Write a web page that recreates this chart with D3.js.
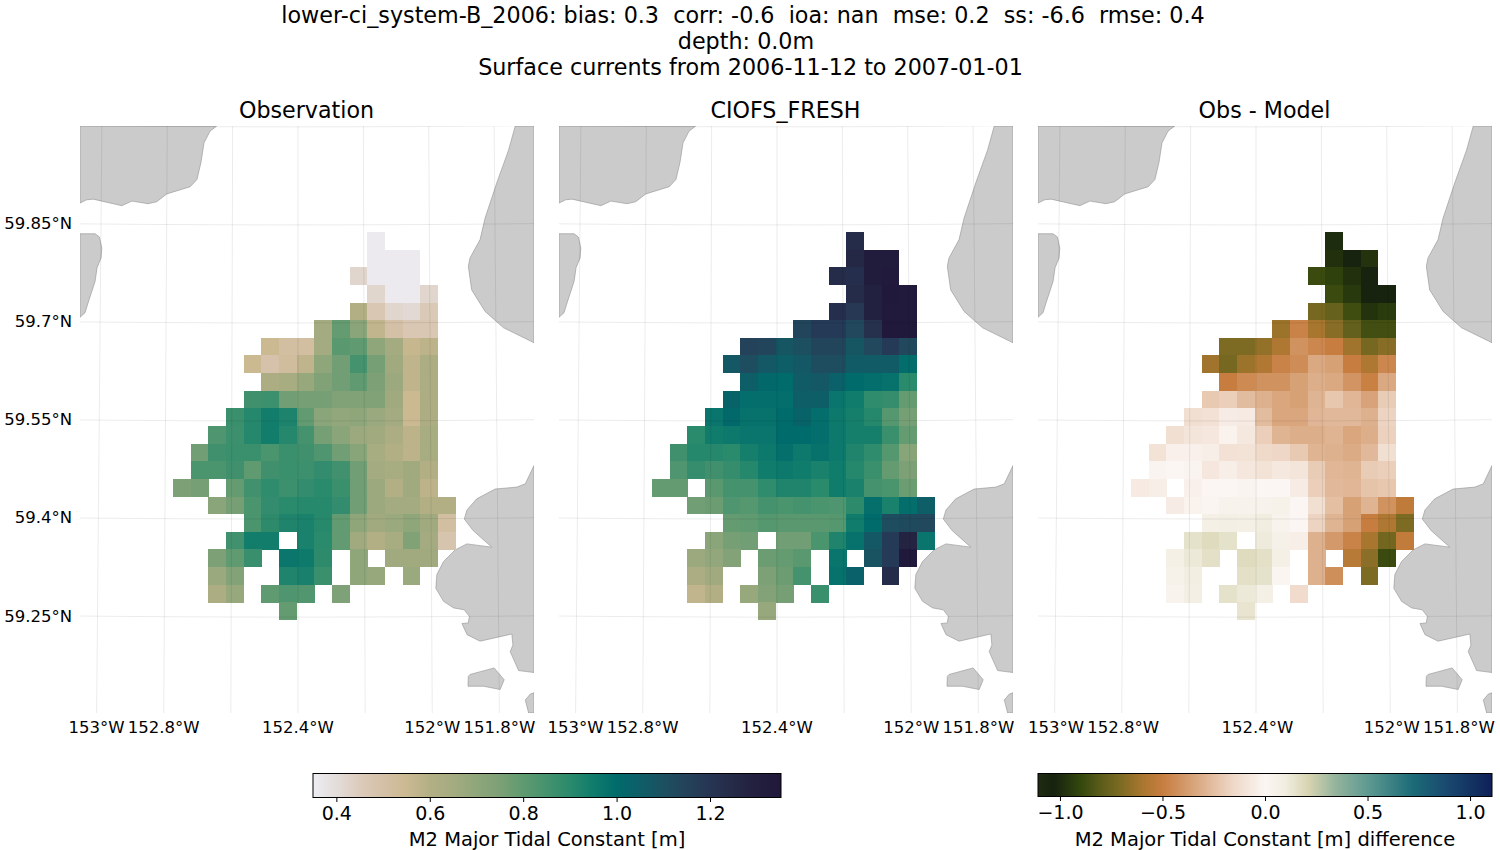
<!DOCTYPE html>
<html>
<head>
<meta charset="utf-8">
<script src="https://cdn.jsdelivr.net/npm/d3@7"></script>
<style>
  html, body { margin: 0; padding: 0; background: #fff; }
  svg { display: block; }
  text { font-family: "DejaVu Sans", sans-serif; fill: #000; white-space: pre; }
</style>
</head>
<body>
<svg id="chart" width="1500" height="850"></svg>
<script>
const _ = null;

// values, one row per latitude bin (north to south), 16 longitude bins
const observation = [
  [_,_,_,_,_,_,_,_,_,_,_,.36,_,_,_,_],
  [_,_,_,_,_,_,_,_,_,_,_,.36,.36,.36,_,_],
  [_,_,_,_,_,_,_,_,_,_,.42,.36,.36,.36,_,_],
  [_,_,_,_,_,_,_,_,_,_,_,.42,.36,.36,.42,_],
  [_,_,_,_,_,_,_,_,_,_,.6,.47,.42,.41,.46,_],
  [_,_,_,_,_,_,_,_,.65,.79,.71,.57,.5,.47,.47,_],
  [_,_,_,_,_,.55,.51,.51,.65,.81,.8,.7,.65,.56,.58,_],
  [_,_,_,_,.55,.49,.52,.575,.7,.77,.85,.76,.66,.575,.62,_],
  [_,_,_,_,_,.62,.64,.68,.74,.77,.8,.75,.67,.575,.62,_],
  [_,_,_,_,.86,.865,.77,.76,.76,.74,.74,.74,.66,.55,.62,_],
  [_,_,_,.87,.91,.945,.925,.795,.71,.69,.7,.675,.65,.55,.62,_],
  [_,_,.83,.865,.91,.945,.91,.85,.76,.71,.67,.66,.62,.58,.64,_],
  [_,.77,.86,.87,.87,.84,.87,.86,.83,.77,.72,.64,.6,.58,.64,_],
  [_,.84,.84,.86,.8,.86,.87,.865,.885,.855,.77,.65,.64,.66,.6,_],
  [.75,.76,_,.79,.855,.89,.865,.885,.9,.87,.77,.67,.605,.66,.58,_],
  [_,_,.71,.76,.84,.885,.9,.905,.905,.885,.77,.67,.65,.65,.605,.605],
  [_,_,_,_,.84,.895,.92,.93,.905,.795,.7,.66,.675,.7,.66,.51],
  [_,_,_,.855,.945,.945,_,.93,.9,.795,.66,.605,.64,.74,.65,.48],
  [_,_,.75,.8,.875,_,.965,.955,.895,_,.7,_,.66,.66,.66,_],
  [_,_,.675,.73,_,_,.92,.935,.87,_,.7,.68,_,.675,_,_],
  [_,_,.62,.68,_,.8,.83,.825,_,.745,_,_,_,_,_,_],
  [_,_,_,_,_,_,.79,_,_,_,_,_,_,_,_,_]
];

const model = [
  [_,_,_,_,_,_,_,_,_,_,_,1.24,_,_,_,_],
  [_,_,_,_,_,_,_,_,_,_,_,1.26,1.32,1.32,_,_],
  [_,_,_,_,_,_,_,_,_,_,1.24,1.23,1.32,1.33,_,_],
  [_,_,_,_,_,_,_,_,_,_,_,1.24,1.29,1.34,1.33,_],
  [_,_,_,_,_,_,_,_,_,_,1.23,1.19,1.29,1.33,1.33,_],
  [_,_,_,_,_,_,_,_,1.14,1.18,1.18,1.13,1.22,1.34,1.34,_],
  [_,_,_,_,_,1.15,1.14,1.08,1.1,1.14,1.14,1.08,1.13,1.18,1.13,_],
  [_,_,_,_,1.07,1.11,1.07,1.05,1.07,1.11,1.11,1.06,1.06,1.06,.995,_],
  [_,_,_,_,_,1.05,1.01,1,1.06,1.07,1.04,1,.99,.98,.9,_],
  [_,_,_,_,1.03,.99,.99,.99,1.05,1.05,.97,.95,.89,.88,.79,_],
  [_,_,_,.97,1.01,.98,.98,1,1.03,.99,.96,.94,.91,.82,.76,_],
  [_,_,.9,.95,.96,.97,.97,1,1,.99,.96,.94,.94,.87,.79,_],
  [_,.86,.91,.91,.9,.94,.96,.985,.96,.98,.96,.92,.89,.82,.72,_],
  [_,.83,.88,.86,.88,.91,.95,.96,.95,.93,.95,.91,.87,.79,.75,_],
  [.79,.79,_,.81,.85,.85,.89,.92,.92,.9,.95,.93,.85,.84,.78,_],
  [_,_,.77,.78,.83,.82,.85,.84,.85,.84,.83,.895,.985,.93,.99,1.05],
  [_,_,_,_,.79,.8,.82,.81,.81,.81,.82,.95,1,1.11,1.12,1.13],
  [_,_,_,.71,.76,.77,_,.77,.77,.84,.92,.98,1.07,1.18,1.28,.97],
  [_,_,.67,.69,.73,_,.78,.79,.81,_,.97,_,1.09,1.18,1.34,_],
  [_,_,.62,.66,_,_,.75,.78,.85,_,.98,1.04,_,1.24,_,_],
  [_,_,.57,.6,_,.68,.73,.76,_,.87,_,_,_,_,_,_],
  [_,_,_,_,_,_,.68,_,_,_,_,_,_,_,_,_]
];

const difference = [
  [_,_,_,_,_,_,_,_,_,_,_,-1,_,_,_,_],
  [_,_,_,_,_,_,_,_,_,_,_,-.98,-1.03,-.97,_,_],
  [_,_,_,_,_,_,_,_,_,_,-.88,-.92,-.98,-1.03,_,_],
  [_,_,_,_,_,_,_,_,_,_,_,-.88,-.95,-1.03,-1.03,_],
  [_,_,_,_,_,_,_,_,_,_,-.72,-.77,-.87,-.97,-.94,_],
  [_,_,_,_,_,_,_,_,-.63,-.48,-.6,-.68,-.78,-.86,-.86,_],
  [_,_,_,_,_,-.7,-.7,-.65,-.58,-.42,-.46,-.5,-.62,-.72,-.68,_],
  [_,_,_,_,-.62,-.72,-.63,-.57,-.48,-.44,-.33,-.36,-.5,-.58,-.46,_],
  [_,_,_,_,_,-.5,-.45,-.42,-.42,-.36,-.31,-.33,-.41,-.49,-.33,_],
  [_,_,_,_,-.21,-.19,-.26,-.3,-.34,-.36,-.29,-.22,-.28,-.35,-.2,_],
  [_,_,_,-.12,-.11,-.05,-.06,-.26,-.34,-.34,-.28,-.27,-.27,-.3,-.17,_],
  [_,_,-.12,-.09,-.08,-.02,-.07,-.19,-.29,-.31,-.31,-.29,-.34,-.31,-.18,_],
  [_,-.1,-.03,-.03,-.04,-.11,-.1,-.15,-.16,-.21,-.29,-.3,-.32,-.27,-.12,_],
  [_,-.01,0,-.01,-.08,-.04,-.08,-.1,-.07,-.09,-.2,-.28,-.29,-.2,-.19,_],
  [-.06,-.04,_,-.03,0,0,-.01,0,0,-.05,-.19,-.27,-.28,-.23,-.22,_],
  [_,_,-.05,-.02,.01,.04,.04,.04,.05,0,-.12,-.25,-.36,-.29,-.42,-.53],
  [_,_,_,_,.07,.08,.07,.1,.03,0,-.17,-.29,-.36,-.5,-.58,-.7],
  [_,_,_,.15,.18,.15,_,.11,.06,-.04,-.3,-.39,-.48,-.6,-.73,-.52],
  [_,_,.07,.12,.16,_,.18,.16,.07,_,-.3,_,-.55,-.67,-.88,_],
  [_,_,.05,.09,_,_,.16,.15,.01,_,-.3,-.43,_,-.7,_,_],
  [_,_,.03,.08,_,.15,.12,.07,_,-.14,_,_,_,_,_,_],
  [_,_,_,_,_,_,.14,_,_,_,_,_,_,_,_,_]
];

// coastline, [lon, lat]
const coast = [
  [[-153.051,60],[-152.643,60],[-152.663,59.992],[-152.681,59.974],[-152.69,59.944],[-152.702,59.918],[-152.722,59.907],[-152.792,59.896],[-152.822,59.884],[-152.848,59.881],[-152.896,59.885],[-152.926,59.878],[-153.012,59.888],[-153.031,59.887],[-153.051,59.882]],
  [[-153.051,59.835],[-153.006,59.835],[-152.993,59.83],[-152.986,59.813],[-152.988,59.798],[-153,59.783],[-153.006,59.762],[-153.027,59.729],[-153.036,59.714],[-153.051,59.707]],
  [[-151.752,60],[-151.772,59.963],[-151.807,59.913],[-151.842,59.859],[-151.857,59.826],[-151.887,59.798],[-151.892,59.785],[-151.882,59.749],[-151.842,59.716],[-151.787,59.691],[-151.696,59.668],[-151.696,60]],
  [[-151.696,59.48],[-151.722,59.452],[-151.747,59.447],[-151.812,59.444],[-151.867,59.429],[-151.896,59.412],[-151.904,59.398],[-151.877,59.38],[-151.822,59.355],[-151.896,59.36],[-151.931,59.351],[-151.966,59.333],[-151.986,59.313],[-151.989,59.292],[-151.966,59.272],[-151.936,59.262],[-151.904,59.259],[-151.889,59.249],[-151.892,59.239],[-151.911,59.238],[-151.896,59.221],[-151.857,59.211],[-151.762,59.222],[-151.759,59.205],[-151.767,59.195],[-151.742,59.166],[-151.696,59.163]],
  [[-151.892,59.157],[-151.887,59.16],[-151.815,59.17],[-151.785,59.152],[-151.797,59.137],[-151.847,59.142],[-151.893,59.142]],
  [[-151.696,59.132],[-151.707,59.13],[-151.722,59.121],[-151.712,59.101],[-151.696,59.101]]
];

const lonLines = [-153, -152.8, -152.6, -152.4, -152.2, -152, -151.8];
const latLines = [59.1, 59.25, 59.4, 59.55, 59.7, 59.85, 60];
const lonTicks = [-153, -152.8, -152.4, -152, -151.8];
const latTicks = [59.85, 59.7, 59.55, 59.4, 59.25];

const titleLines = [
  "lower-ci_system-B_2006: bias: 0.3  corr: -0.6  ioa: nan  mse: 0.2  ss: -6.6  rmse: 0.4",
  "depth: 0.0m",
  "Surface currents from 2006-11-12 to 2007-01-01"
];

const rainValues = [.35,.4,.45,.5,.55,.6,.65,.7,.75,.8,.85,.9,.95,1,1.05,1.1,1.15,1.2,1.25,1.3,1.352];
const rainColors = ["#eeedf3","#e3ddda","#dccbbb","#d4c0a6","#cbb992","#b3af85","#a5ab80","#8fa67b","#7da076","#5f9a70","#45926e","#2a8a6c","#107c6c","#006b6b","#0e5e68","#1c5060","#24425a","#263553","#252a47","#231f3e","#21173a"];
const diffValues = [-1.107,-1.03,-.9,-.8,-.71,-.6,-.5,-.34,-.16,0,.1,.216,.346,.5,.72,.88,1.107];
const diffColors = ["#1f2b12","#17220f","#33470d","#5c5c1a","#7a6a22","#a8762f","#c77d3f","#d9a67e","#eed7c6","#fbf6f3","#f1ede0","#d6d3b0","#93b39c","#5f9a92","#1c6b77","#1a4a70","#0e2058"];

const rain = d3.scaleLinear().domain(rainValues).range(rainColors).clamp(true);
const diff = d3.scaleLinear().domain(diffValues).range(diffColors).clamp(true);

const panelW = 454, panelH = 587, panelY = 126;
const panels = [
  { title: "Observation", x: 80, rows: observation, color: rain },
  { title: "CIOFS_FRESH", x: 559, rows: model, color: rain },
  { title: "Obs - Model", x: 1038, rows: difference, color: diff }
];

const svg = d3.select("#chart");

svg.selectAll(".suptitle")
  .data(titleLines)
  .enter()
  .append("text")
  .attr("class", "suptitle")
  .attr("x", (d, i) => [743, 746, 750.5][i])
  .attr("y", (d, i) => 23 + i * 26)
  .attr("text-anchor", "middle")
  .attr("font-size", 22.25)
  .text(d => d);

svg.append("defs").append("clipPath").attr("id", "panel-clip")
  .append("rect").attr("width", panelW).attr("height", panelH);

// grid cells sit on a regular pixel lattice of the map frame
const colScale = d3.scaleBand().domain(d3.range(16)).range([93, 375.5]);
const rowScale = d3.scaleBand().domain(d3.range(22)).range([106, 494]);

// coast was digitised against the frame, so plain linear scales
const lonScale = d3.scaleLinear().domain([-153.051, -151.696]).range([0, panelW]);
const latScale = d3.scaleLinear().domain([60, 59.101]).range([0, panelH]);
const coastLine = d3.line().x(d => lonScale(d[0])).y(d => latScale(d[1]));

// graticule is slightly conic
const projection = d3.geoConicConformal()
  .parallels([59.5, 59.5])
  .rotate([152.4, 0])
  .center([0, 59.55])
  .scale(37450)
  .translate([218, 295]);
const geoPath = d3.geoPath(projection);

const fmtLon = v => `${Math.abs(v)}°W`;
const fmtLat = v => `${v}°N`;

panels.forEach((p, idx) => {
  const g = svg.append("g").attr("transform", `translate(${p.x},${panelY})`);

  g.append("text")
    .attr("x", panelW / 2 - 0.5)
    .attr("y", -8)
    .attr("text-anchor", "middle")
    .attr("font-size", 22.2)
    .text(p.title);

  const map = g.append("g").attr("clip-path", "url(#panel-clip)");

  map.selectAll(".land")
    .data(coast)
    .enter()
    .append("path")
    .attr("class", "land")
    .attr("d", d => coastLine(d) + "Z")
    .attr("fill", "#cbcbcb")
    .attr("stroke", "#929292")
    .attr("stroke-width", 0.6);

  const cells = [];
  p.rows.forEach((row, r) => row.forEach((v, c) => { if (v !== null) cells.push({ r, c, v }); }));

  map.selectAll(".cell")
    .data(cells)
    .enter()
    .append("rect")
    .attr("class", "cell")
    .attr("x", d => colScale(d.c))
    .attr("y", d => rowScale(d.r))
    .attr("width", colScale.bandwidth() + 0.3)
    .attr("height", rowScale.bandwidth() + 0.3)
    .attr("shape-rendering", "crispEdges")
    .attr("fill", d => p.color(d.v));

  // graticule on top of everything, as in the original
  const meridians = lonLines.map(lon => ({
    type: "LineString",
    coordinates: d3.range(59, 60.11, 0.1).map(lat => [lon, lat])
  }));
  const parallels = latLines.map(lat => ({
    type: "LineString",
    coordinates: d3.range(-153.3, -151.4, 0.05).map(lon => [lon, lat])
  }));

  map.selectAll(".grat")
    .data(meridians.concat(parallels))
    .enter()
    .append("path")
    .attr("class", "grat")
    .attr("d", geoPath)
    .attr("fill", "none")
    .attr("stroke", "#000")
    .attr("stroke-opacity", 0.08)
    .attr("stroke-width", 1);

  g.selectAll(".lon-label")
    .data(lonTicks)
    .enter()
    .append("text")
    .attr("class", "lon-label")
    .attr("x", d => projection([d, 59.1])[0] + (idx === 2 ? 1.5 : 0))
    .attr("y", panelH + 20)
    .attr("text-anchor", "middle")
    .attr("font-size", 16.5)
    .text(fmtLon);

  if (idx === 0) {
    g.selectAll(".lat-label")
      .data(latTicks)
      .enter()
      .append("text")
      .attr("class", "lat-label")
      .attr("x", -8)
      .attr("y", d => projection([-153.05, d])[1] + 5.5)
      .attr("text-anchor", "end")
      .attr("font-size", 16.5)
      .text(fmtLat);
  }
});

// colorbars
const colorbars = [
  { id: "cb-rain", x0: 313, x1: 781, h: 24, color: rain, values: rainValues, domain: [.35, 1.352], ticks: [.4, .6, .8, 1, 1.2], fmt: d3.format(".1f"), label: "M2 Major Tidal Constant [m]" },
  { id: "cb-diff", x0: 1038, x1: 1492, h: 23, color: diff, values: diffValues, domain: [-1.107, 1.107], ticks: [-1, -.5, 0, .5, 1], fmt: d3.format(".1f"), label: "M2 Major Tidal Constant [m] difference" }
];

colorbars.forEach(cb => {
  const scale = d3.scaleLinear().domain(cb.domain).range([0, cb.x1 - cb.x0]);
  const g = svg.append("g").attr("transform", `translate(${cb.x0},773.5)`);

  const grad = svg.select("defs").append("linearGradient").attr("id", cb.id);
  grad.selectAll("stop")
    .data(cb.values)
    .enter()
    .append("stop")
    .attr("offset", d => (d - cb.domain[0]) / (cb.domain[1] - cb.domain[0]))
    .attr("stop-color", d => cb.color(d));

  g.append("rect")
    .attr("width", scale.range()[1])
    .attr("height", cb.h)
    .attr("fill", `url(#${cb.id})`)
    .attr("stroke", "#000")
    .attr("stroke-width", 1);

  const axis = g.append("g")
    .attr("transform", `translate(0,${cb.h})`)
    .call(d3.axisBottom(scale).tickValues(cb.ticks).tickFormat(cb.fmt).tickSize(4.5).tickPadding(5));
  axis.select(".domain").remove();
  axis.selectAll("text")
    .attr("font-size", 19)
    .attr("font-family", '"DejaVu Sans", sans-serif');

  g.append("text")
    .attr("x", scale.range()[1] / 2)
    .attr("y", 72)
    .attr("text-anchor", "middle")
    .attr("font-size", 19.5)
    .text(cb.label);
});
</script>
</body>
</html>
